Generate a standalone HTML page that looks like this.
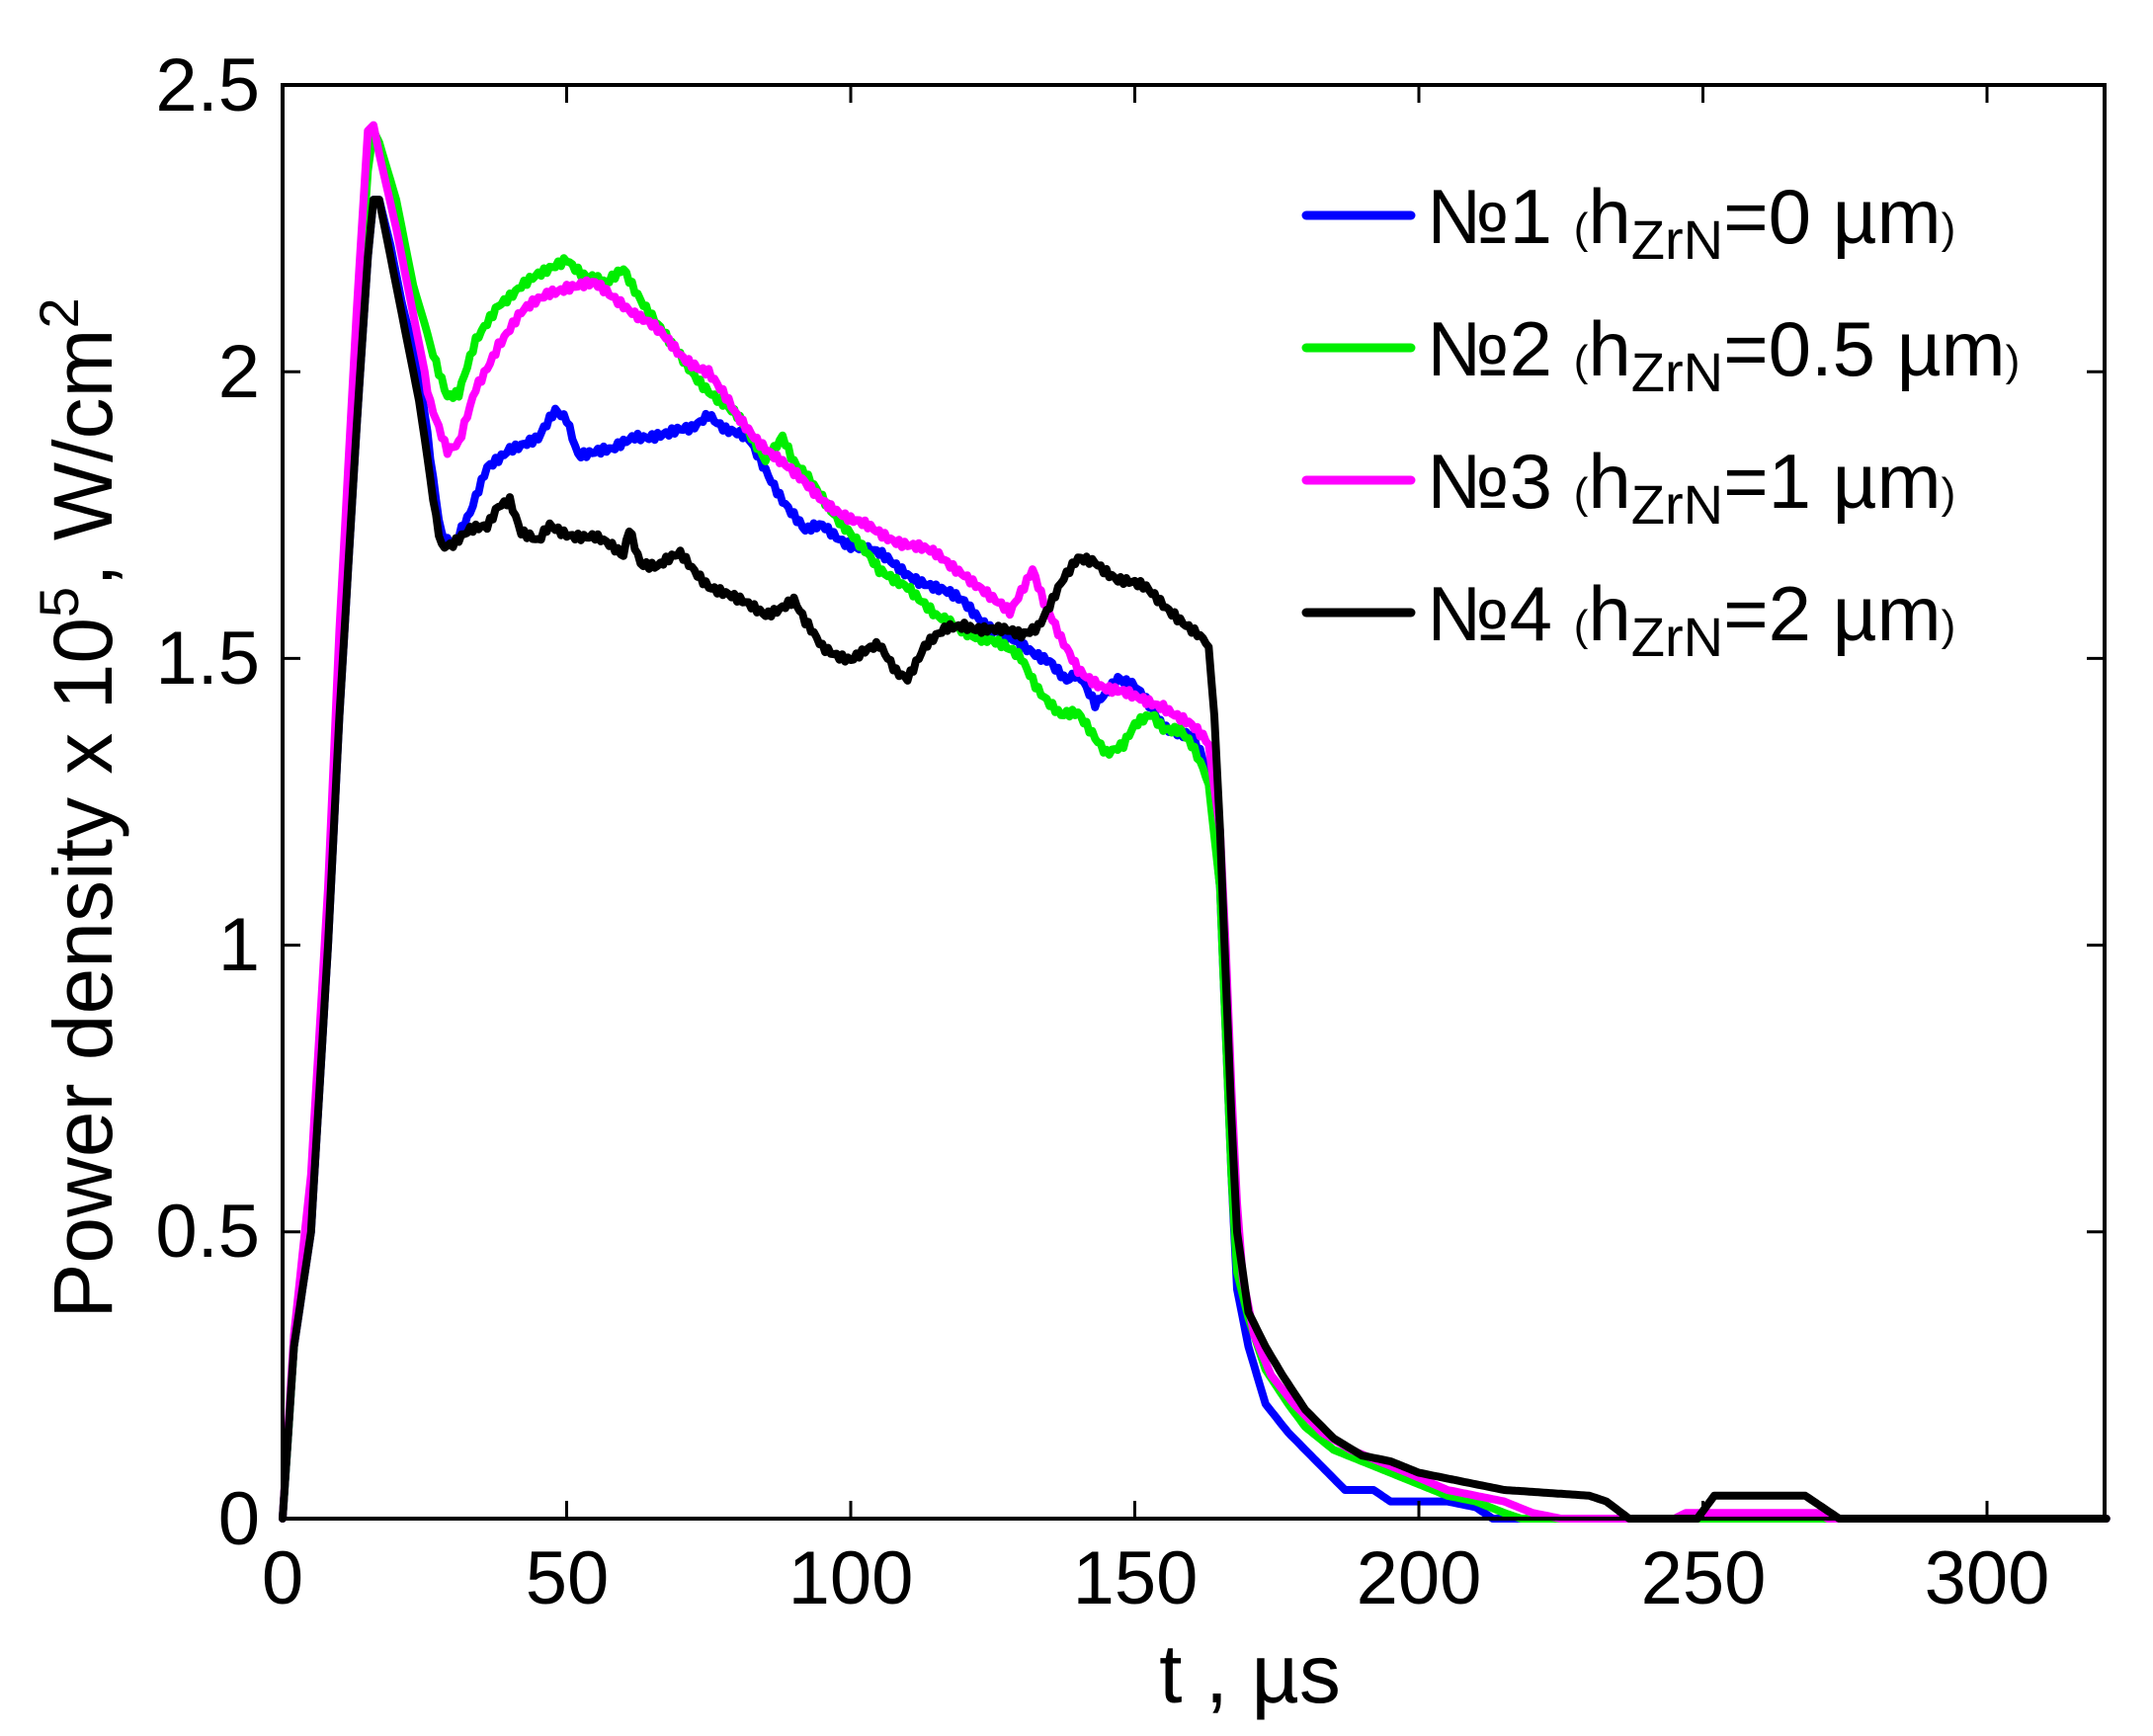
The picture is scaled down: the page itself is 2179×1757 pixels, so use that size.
<!DOCTYPE html>
<html><head><meta charset="utf-8">
<style>html,body{margin:0;padding:0;background:#fff;}svg{display:block;}</style>
</head><body>
<svg id="s" width="2179" height="1757" viewBox="0 0 2179 1757" xmlns="http://www.w3.org/2000/svg" font-family="Liberation Sans, Arial, sans-serif">
<rect width="2179" height="1757" fill="#fff"/>
<g id="curves" fill="none" stroke-width="8" stroke-linejoin="round" stroke-linecap="round"></g>
<rect x="286" y="86" width="1844" height="1451" fill="none" stroke="#000" stroke-width="4"/>
<g id="ticks" stroke="#000" stroke-width="3"></g>
<g font-size="76" fill="#000" text-anchor="end">
<text x="263" y="1563">0</text>
<text x="263" y="1272">0.5</text>
<text x="263" y="982">1</text>
<text x="263" y="692">1.5</text>
<text x="263" y="402">2</text>
<text x="263" y="112">2.5</text>
</g>
<g font-size="76" fill="#000" text-anchor="middle">
<text x="286" y="1623">0</text>
<text x="574" y="1623">50</text>
<text x="861" y="1623">100</text>
<text x="1149" y="1623">150</text>
<text x="1436" y="1623">200</text>
<text x="1724" y="1623">250</text>
<text x="2011" y="1623">300</text>
</g>
<text x="1265" y="1723" font-size="84" text-anchor="middle">t , µs</text>
<text transform="translate(113,818) rotate(-90)" font-size="84" text-anchor="middle">Power density x 10<tspan font-size="56" dy="-34">5</tspan><tspan dy="34">, W/cm</tspan><tspan font-size="56" dy="-34">2</tspan></text>
<g id="legend"></g>
</svg>
<script>
var X=function(t){return 286+t*5.75}, Y=function(v){return 1537-v*580.4};
var data={
blue:[[0,0],[2,0.3],[5,0.5],[8,1.0],[10,1.4],[13,1.9],[15,2.2],[16,2.3],[17,2.3],[19,2.22],[21,2.12],[24,2.0],[27,1.78],[28,1.72],[30,1.7],[33,1.75],[36,1.83],[40,1.87],[45,1.88],[48,1.93],[50,1.92],[52,1.86],[58,1.86],[62,1.89],[68,1.89],[72,1.9],[75,1.93],[78,1.9],[82,1.88],[85,1.83],[88,1.78],[90,1.75],[92,1.72],[95,1.73],[100,1.7],[105,1.68],[110,1.65],[115,1.62],[120,1.6],[125,1.55],[130,1.52],[135,1.5],[138,1.46],[140,1.47],[143,1.42],[147,1.47],[150,1.45],[155,1.38],[160,1.37],[163,1.3],[165,1.1],[166,0.85],[167,0.6],[168,0.4],[170,0.3],[173,0.2],[177,0.15],[182,0.1],[187,0.05],[192,0.05],[195,0.03],[205,0.03],[210,0.02],[213,0],[321,0]],
green:[[0,0],[2,0.3],[5,0.55],[8,1.05],[10,1.5],[13,2.05],[15,2.35],[16,2.42],[17,2.4],[20,2.3],[23,2.15],[26,2.05],[29,1.96],[31,1.96],[34,2.05],[38,2.12],[42,2.15],[46,2.17],[50,2.2],[53,2.17],[57,2.15],[60,2.18],[63,2.13],[68,2.05],[72,2.0],[75,1.97],[80,1.92],[85,1.85],[88,1.89],[90,1.84],[95,1.78],[100,1.72],[105,1.65],[110,1.63],[115,1.57],[120,1.55],[125,1.53],[130,1.5],[133,1.45],[137,1.4],[140,1.4],[145,1.34],[148,1.35],[150,1.38],[153,1.4],[155,1.38],[158,1.38],[160,1.35],[163,1.28],[165,1.1],[166,0.85],[167,0.6],[168,0.43],[170,0.35],[173,0.26],[177,0.2],[180,0.16],[185,0.12],[190,0.1],[195,0.08],[200,0.06],[205,0.04],[210,0.03],[215,0.01],[218,0],[321,0]],
magenta:[[0,0],[2,0.32],[5,0.6],[8,1.1],[10,1.55],[13,2.1],[15,2.42],[16,2.43],[17,2.38],[20,2.25],[23,2.1],[26,1.95],[29,1.86],[31,1.87],[34,1.97],[38,2.05],[42,2.1],[47,2.14],[50,2.15],[55,2.15],[60,2.12],[65,2.08],[70,2.03],[75,2.0],[80,1.92],[85,1.87],[90,1.82],[95,1.78],[100,1.74],[105,1.72],[110,1.7],[115,1.68],[120,1.65],[125,1.6],[128,1.58],[130,1.62],[132,1.66],[134,1.6],[137,1.53],[140,1.48],[145,1.45],[150,1.43],[155,1.42],[160,1.38],[163,1.35],[165,1.2],[166,1.0],[167,0.75],[168,0.55],[169,0.42],[171,0.32],[174,0.25],[178,0.2],[183,0.15],[188,0.12],[193,0.1],[198,0.08],[205,0.05],[210,0.04],[215,0.03],[220,0.01],[225,0],[245,0],[247,0.01],[270,0.01],[272,0],[321,0]],
black:[[0,0],[2,0.3],[5,0.5],[8,1.0],[10,1.4],[13,1.9],[15,2.2],[16,2.3],[17,2.3],[19,2.2],[21,2.1],[24,1.95],[27,1.75],[28,1.7],[30,1.7],[33,1.72],[36,1.73],[38,1.77],[40,1.78],[42,1.72],[45,1.7],[47,1.73],[50,1.72],[55,1.71],[60,1.68],[61,1.73],[63,1.67],[66,1.66],[70,1.68],[75,1.63],[80,1.6],[85,1.58],[90,1.6],[92,1.56],[95,1.52],[100,1.5],[105,1.52],[108,1.48],[110,1.47],[113,1.52],[117,1.55],[120,1.56],[125,1.55],[130,1.54],[133,1.56],[137,1.63],[140,1.67],[143,1.67],[147,1.64],[152,1.62],[157,1.58],[160,1.55],[163,1.52],[164,1.4],[165,1.2],[166,0.95],[167,0.7],[168,0.5],[170,0.36],[173,0.3],[176,0.25],[180,0.19],[185,0.14],[190,0.11],[195,0.1],[200,0.08],[210,0.06],[215,0.05],[230,0.04],[233,0.03],[237,0],[249,0],[252,0.04],[268,0.04],[271,0.02],[274,0],[321,0]]
};
var cols={blue:"#0000ff",green:"#00ee00",magenta:"#ff00ff",black:"#000"};
var NS="http://www.w3.org/2000/svg",g=document.getElementById("curves");
function jitter(t){return (Math.sin(t*7.3)*0.006+Math.sin(t*13.1)*0.005);}
["blue","green","magenta","black"].forEach(function(k){
 var pts=data[k],out=[];
 for(var i=0;i<pts.length-1;i++){
  var a=pts[i],b=pts[i+1],n=Math.max(1,Math.round((b[0]-a[0])*2));
  for(var j=0;j<n;j++){var f=j/n,t=a[0]+(b[0]-a[0])*f,v=a[1]+(b[1]-a[1])*f;
   if(t>25&&t<163&&v>0.05)v+=jitter(t+k.length);
   out.push(X(t).toFixed(1)+","+Y(Math.max(0,v)).toFixed(1));}
 }
 var l=pts[pts.length-1];out.push(X(l[0])+","+Y(l[1]));
 var p=document.createElementNS(NS,"polyline");p.setAttribute("points",out.join(" "));p.setAttribute("stroke",cols[k]);g.appendChild(p);
});
var tk=document.getElementById("ticks"),h="";
for(var t=50;t<=300;t+=50){var x=X(t);h+='<line x1="'+x+'" y1="1537" x2="'+x+'" y2="1519"/><line x1="'+x+'" y1="86" x2="'+x+'" y2="104"/>';}
for(var v=0.5;v<=2.01;v+=0.5){var y=Y(v);h+='<line x1="286" y1="'+y+'" x2="304" y2="'+y+'"/><line x1="2130" y1="'+y+'" x2="2112" y2="'+y+'"/>';}
tk.innerHTML=h;
var lg=document.getElementById("legend"),labs=[["1","0"],["2","0.5"],["3","1"],["4","2"]],ks=["blue","green","magenta","black"],s="";
for(var i=0;i<4;i++){var y=218+i*134;
 s+='<line x1="1322" y1="'+y+'" x2="1428" y2="'+y+'" stroke="'+cols[ks[i]]+'" stroke-width="9" stroke-linecap="round"/>';
 s+='<text x="1444" y="'+(y+28)+'" font-size="78">№'+labs[i][0]+' <tspan font-size="44">(</tspan>h<tspan font-size="56" dy="16">ZrN</tspan><tspan dy="-16">='+labs[i][1]+' µm</tspan><tspan font-size="44">)</tspan></text>';}
lg.innerHTML=s;
</script>
</body></html>
